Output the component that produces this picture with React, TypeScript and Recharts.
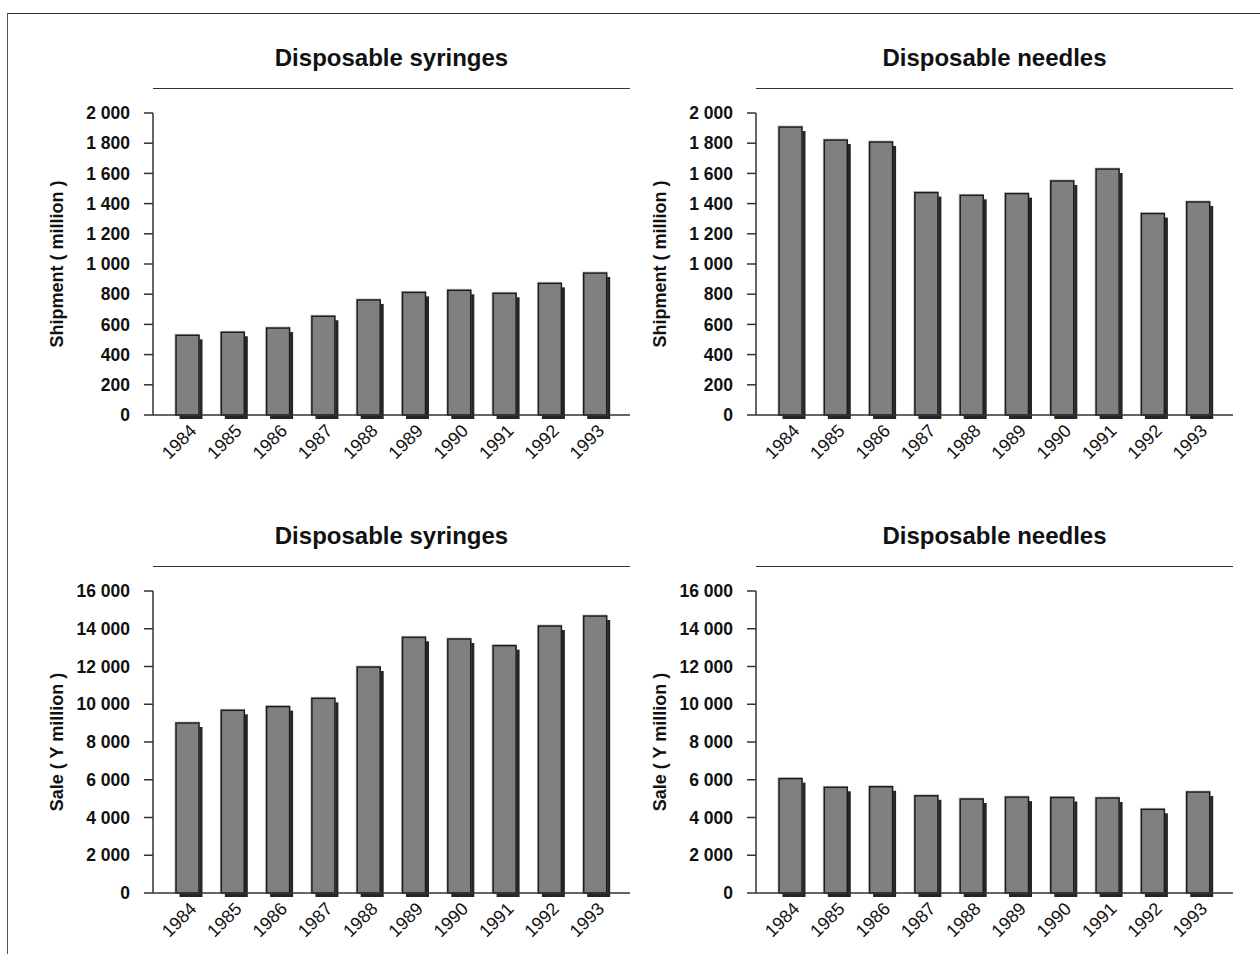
import React from "react";
import { BarChart, Bar, XAxis, YAxis } from "recharts";

// ── Data ───────────────────────────────────────────────────────────────────

const years = ["1984", "1985", "1986", "1987", "1988", "1989", "1990", "1991", "1992", "1993"];

const syringeShipment = [528, 548, 576, 654, 762, 812, 826, 806, 872, 940];
const needleShipment = [1907, 1821, 1808, 1473, 1455, 1466, 1550, 1629, 1334, 1411];
const syringeSale = [9007, 9680, 9875, 10315, 11973, 13547, 13458, 13105, 14146, 14675];
const needleSale = [6060, 5600, 5630, 5150, 4980, 5080, 5060, 5033, 4434, 5351];

const shipmentTicks = [0, 200, 400, 600, 800, 1000, 1200, 1400, 1600, 1800, 2000];
const saleTicks = [0, 2000, 4000, 6000, 8000, 10000, 12000, 14000, 16000];

// ── Helpers ────────────────────────────────────────────────────────────────

const FONT = '"Liberation Sans", Arial, Helvetica, sans-serif';
const INK = "#111";

const fmtThousands = (v: number) => String(v).replace(/\B(?=(\d{3})+(?!\d))/g, " ");

/** bar with offset drop shadow */
const ShadowBar = (props: any) => {
  const { x, y, width, height } = props;
  if (!height || height <= 0) return null;
  return (
    <g>
      <rect x={x + 3.5} y={y + 4} width={width} height={height} fill="#262626" />
      <rect x={x - 1} y={y - 1} width={width + 1} height={height + 1} fill="none" stroke="#c4c4c4" strokeWidth={1} />
      <rect x={x} y={y} width={width} height={height} fill="#808080" stroke="#1c1c1c" strokeWidth={1.5} />
    </g>
  );
};

const YearTick = (props: any) => {
  const { x, y, payload } = props;
  const ax = x + 10;
  const ay = y + 17;
  return (
    <text x={ax} y={ay} transform={`rotate(-45 ${ax} ${ay})`} textAnchor="end"
      fontSize={18} fontFamily={FONT} fill={INK}>
      {payload.value}
    </text>
  );
};

const YLabel = (props: any) => {
  const { viewBox, value } = props;
  const cx = viewBox.x + 17;
  const cy = viewBox.y + viewBox.height / 2;
  return (
    <text x={cx} y={cy} transform={`rotate(-90 ${cx} ${cy})`} textAnchor="middle" dominantBaseline="central"
      fontSize={18} fontWeight="bold" fontFamily={FONT} fill={INK}>
      {value}
    </text>
  );
};

// ── Panel ──────────────────────────────────────────────────────────────────

interface PanelProps {
  title: string;
  yLabel: string;
  values: number[];
  ticks: number[];
  left: number;
  top: number;
}

function Panel({ title, yLabel, values, ticks, left, top }: PanelProps) {
  const data = years.map((year, i) => ({ year, value: values[i] }));
  const max = ticks[ticks.length - 1];
  return (
    <div style={{ position: "absolute", left, top, width: 640, height: 478 }}>
      <div style={{
        position: "absolute", left: 153, width: 477, top: 43, textAlign: "center",
        fontFamily: FONT, fontWeight: "bold", fontSize: 24, color: INK, lineHeight: "30px",
      }}>
        {title}
      </div>
      <div style={{ position: "absolute", left: 153, width: 477, top: 88, borderTop: "1.5px solid #333" }} />
      <BarChart width={640} height={478} data={data}
        margin={{ top: 113, right: 10, bottom: 13, left: 40 }}>
        <XAxis dataKey="year" interval={0} padding={{ left: 12, right: 12 }}
          tickLine={false} tickSize={0} tickMargin={0} height={50}
          axisLine={{ stroke: "#333", strokeWidth: 1.5 }} tick={<YearTick />} />
        <YAxis domain={[0, max]} ticks={ticks} interval={0} width={113}
          tickSize={9} tickMargin={14} tickFormatter={fmtThousands}
          axisLine={{ stroke: "#333", strokeWidth: 1.5 }} tickLine={{ stroke: "#333", strokeWidth: 1.5 }}
          tick={{ fill: INK, fontSize: 17.5, fontWeight: "bold", fontFamily: FONT }}
          label={<YLabel value={yLabel} />} />
        <Bar dataKey="value" barSize={23} shape={<ShadowBar />} isAnimationActive={false} />
      </BarChart>
    </div>
  );
}

// ── App ────────────────────────────────────────────────────────────────────

export default function App() {
  return (
    <div style={{ position: "absolute", left: 0, top: 0, width: 1260, height: 954, background: "#fff", overflow: "hidden" }}>
      <div style={{
        position: "absolute", left: 7, top: 13, right: 0, bottom: 0,
        borderLeft: "1.5px solid #555", borderTop: "1.5px solid #333",
      }} />
      <Panel title="Disposable syringes" yLabel="Shipment ( million )" values={syringeShipment} ticks={shipmentTicks} left={0} top={0} />
      <Panel title="Disposable needles" yLabel="Shipment ( million )" values={needleShipment} ticks={shipmentTicks} left={603} top={0} />
      <Panel title="Disposable syringes" yLabel="Sale ( Y million )" values={syringeSale} ticks={saleTicks} left={0} top={478} />
      <Panel title="Disposable needles" yLabel="Sale ( Y million )" values={needleSale} ticks={saleTicks} left={603} top={478} />
    </div>
  );
}
